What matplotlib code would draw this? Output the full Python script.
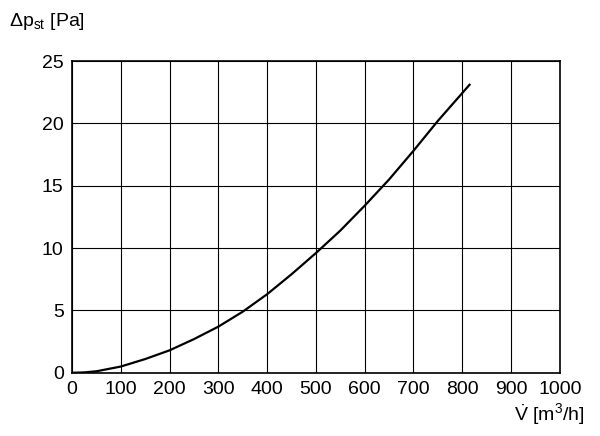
import matplotlib
matplotlib.use('Agg')
import matplotlib.pyplot as plt

plt.rcParams['font.family'] = ['Liberation Sans Narrow', 'Liberation Sans', 'DejaVu Sans']
plt.rcParams['mathtext.fontset'] = 'custom'
plt.rcParams['mathtext.rm'] = 'Liberation Sans'

flow = [0, 25, 50, 100, 150, 200, 250, 300, 350, 400, 450, 500, 550, 600, 650, 700, 750, 815]
dp = [0, 0.03, 0.12, 0.5, 1.1, 1.8, 2.7, 3.7, 4.9, 6.3, 7.9, 9.6, 11.4, 13.4, 15.5, 17.8, 20.2, 23.1]
xticks = list(range(0, 1001, 100))
yticks = list(range(0, 26, 5))

fig = plt.figure(figsize=(6, 4.36), dpi=100)
ax = fig.add_axes([0.12, 0.145, 0.813, 0.715])
ax.plot(flow, dp, color='black', lw=1.6)
ax.set_xlim(0, 1000)
ax.set_ylim(0, 25)
ax.set_xticks(xticks)
ax.set_yticks(yticks)
ax.grid(True, color='black', lw=0.8)
for s in ax.spines.values():
    s.set_linewidth(1.2)
ax.tick_params(length=0, labelsize=14, pad=6)
fig.text(0.015, 0.94, r'$\Delta$p$_{\mathrm{st}}$ [Pa]', fontsize=14)
fig.text(0.975, 0.035, r'$\dot{\mathrm{V}}$ [m$^3$/h]', fontsize=14, ha='right')
fig.savefig('out.png')
